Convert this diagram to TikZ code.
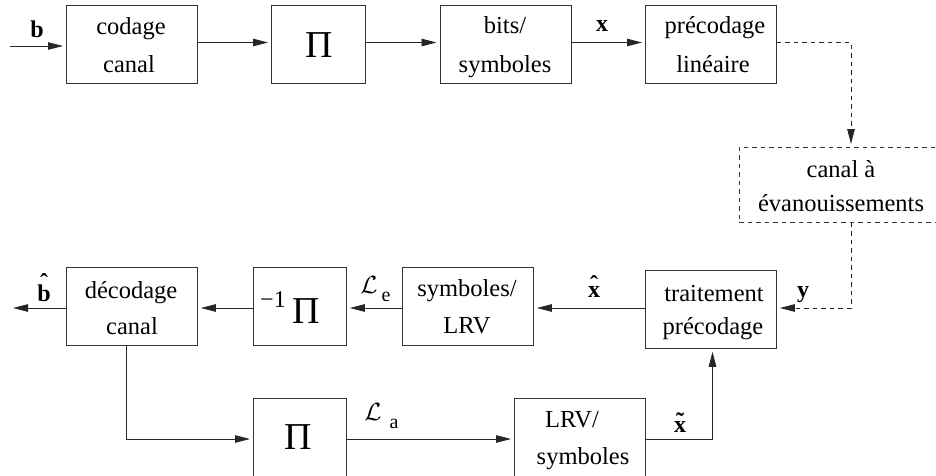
\documentclass[tikz,border=0pt]{standalone}
\usepackage{fontspec}
\setmainfont{Liberation Serif}
\usetikzlibrary{arrows.meta}
\newcommand{\accented}[3]{\ooalign{#2\cr\hfil\raisebox{#3}{#1}\hfil\cr}}
\tikzset{
  x=1pt,y=-1pt,
  blockbox/.style={draw=black!80,line width=0.8pt,minimum width=#1,minimum height=78pt,inner sep=0pt,anchor=north west},
  blockbox/.default=131pt,
  txt/.style={inner sep=0pt,anchor=base,font=\fontsize{24.5}{24.5}\selectfont},
  pisym/.style={inner sep=0pt,anchor=base,font=\fontsize{38}{38}\selectfont},
  lab/.style={inner sep=0pt,anchor=base,font=\fontsize{24}{24}\selectfont\bfseries},
  subl/.style={inner sep=0pt,anchor=base,font=\fontsize{20}{20}\selectfont},
  llr/.style={inner sep=0pt,anchor=base,font=\fontsize{24.88}{24.88}\selectfont},
  flow/.style={draw=black!85,line width=0.9pt,shorten >=3pt,-{Triangle[length=15pt,width=7.5pt]}},
  dflow/.style={flow,dash pattern=on 4.5pt off 4pt},
}
\begin{document}
\begin{tikzpicture}
\useasboundingbox (0,0) rectangle (936,476);
% top row
\node[blockbox] (cod) at (66,5) {};
\node[blockbox=94pt] (pi1) at (271,5) {};
\node[blockbox] (bits) at (439.5,5) {};
\node[blockbox] (prec) at (645,5) {};
% channel (its right side lies beyond the picture's edge)
\node[blockbox=205pt,minimum height=75pt,dash pattern=on 4.5pt off 4pt] (chan) at (739,147) {};
% middle row
\node[blockbox] (trait) at (645,270) {};
\node[blockbox] (sym) at (402,267) {};
\node[blockbox=93pt] (pinv) at (253,267) {};
\node[blockbox] (dec) at (66,267) {};
% bottom row
\node[blockbox=93pt] (pi2) at (253,398) {};
\node[blockbox] (lrv) at (514,398) {};
% texts
\node[txt] (t1) at (131,35) {codage};
\node[txt] (t2) at (129,73) {canal};
\node[pisym] (t3) at (319,58) {Π};
\node[txt] (t4) at (505,34) {bits/};
\node[txt] (t5) at (505,73) {symboles};
\node[txt] (t6) at (715,34) {précodage};
\node[txt] (t7) at (713,73) {linéaire};
\node[txt] (t8) at (841,177) {canal à};
\node[txt] (t9) at (841,211) {évanouissements};
\node[txt] (t10) at (714,301) {traitement};
\node[txt] (t11) at (713,334) {précodage};
\node[txt] (t12) at (467,296) {symboles/};
\node[txt] (t13) at (467,333) {LRV};
\node[txt] (t14) at (131,298) {décodage};
\node[txt] (t15) at (132,334) {canal};
\node[txt] (t16) at (572,427) {LRV/};
\node[txt] (t17) at (583,464) {symboles};
\node[pisym] (t18) at (306,323) {Π};
\node[subl,font=\fontsize{24}{24}\selectfont] (t19) at (273,307) {−1};
\node[pisym] (t20) at (298,449) {Π};
% labels
\node[lab] (lb) at (37,38) {b};
\node[lab] (lx) at (602,32) {x};
\node[lab] (ly) at (803,297) {y};
\node[lab] (lbh) at (44,301) {\accented{ˆ}{b}{11pt}};
\node[lab] (lxh) at (594,297) {\accented{ˆ}{x}{5pt}};
\node[lab] (lxt) at (680,432) {\accented{˜}{x}{3pt}};
\node[llr] (le) at (369,293) {$\mathcal{L}$};
\node[subl] (lee) at (386,301) {e};
\node[llr] (la) at (373,420) {$\mathcal{L}$};
\node[subl] (laa) at (394,428) {a};
% connectors
\coordinate (in) at (10,46);
\coordinate (out) at (10,308);
\coordinate (c1) at (851,42.5);
\coordinate (c2) at (851,308);
\coordinate (c3) at (126,439);
\coordinate (c4) at (712.5,439);
\draw[flow] (in) -- (cod.west |- in);
\draw[flow] (cod.east |- c1) -- (pi1.west |- c1);
\draw[flow] (pi1.east |- c1) -- (bits.west |- c1);
\draw[flow] (bits.east |- c1) -- (prec.west |- c1);
\draw[dflow] (prec.east |- c1) -- (c1) -- (c1 |- chan.north);
\draw[dflow] (c1 |- chan.south) -- (c2) -- (trait.east |- c2);
\draw[flow] (trait.west |- c2) -- (sym.east |- c2);
\draw[flow] (sym.west |- c2) -- (pinv.east |- c2);
\draw[flow] (pinv.west |- c2) -- (dec.east |- c2);
\draw[flow] (dec.west |- c2) -- (out);
\draw[flow] (c3 |- dec.south) -- (c3) -- (pi2.west |- c3);
\draw[flow] (pi2.east |- c3) -- (lrv.west |- c3);
\draw[flow] (lrv.east |- c4) -- (c4) -- (c4 |- trait.south);
\end{tikzpicture}
\end{document}
